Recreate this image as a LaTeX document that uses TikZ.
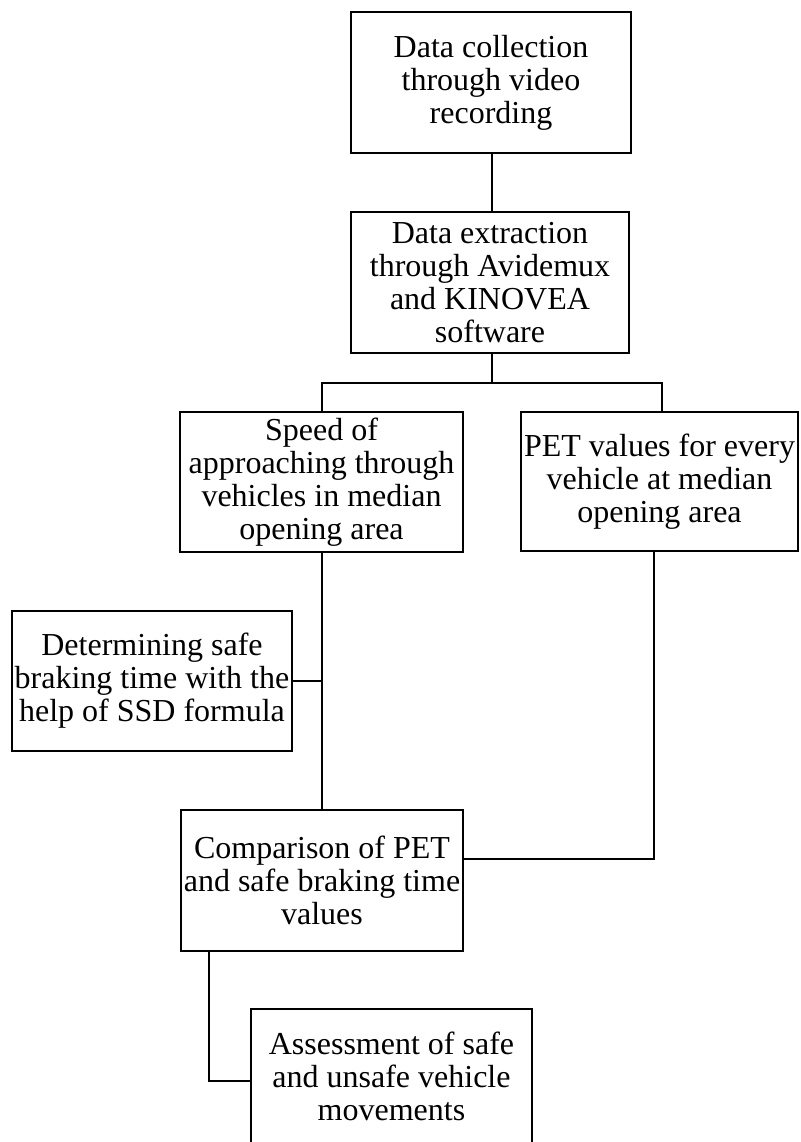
\documentclass[tikz,border=0pt]{standalone}
\usepackage{fontspec}
\setmainfont{Liberation Serif}
\begin{document}
\begin{tikzpicture}[x=1pt,y=-1pt,
  flowbox/.style={draw=black, line width=2.3pt, inner sep=0pt, align=center,
    font=\fontsize{32}{33}\selectfont, minimum width=280pt, minimum height=141pt},
  conn/.style={draw=black, line width=2.3pt}]
\useasboundingbox[fill=white] (0,0) rectangle (800,1142);
\clip (0,0) rectangle (800,1142);
\node[flowbox] (b1) at (491,82.5) {Data collection\\through video\\recording};
\node[flowbox, minimum width=278pt] (b2) at (490,282.5) {Data extraction\\through Avidemux\\and KINOVEA\\software};
\node[flowbox, minimum width=283pt, minimum height=140pt] (b3) at (321.5,482) {Speed of\\approaching through\\vehicles in median\\opening area};
\node[flowbox, minimum width=277pt, minimum height=139pt] (b4) at (659.5,481.5) {PET values for every\\vehicle at median\\opening area};
\node[flowbox, minimum height=140pt] (b6) at (152,681) {Determining safe\\braking time with the\\help of SSD formula};
\node[flowbox, minimum width=282pt] (b5) at (322,880.5) {Comparison of PET\\and safe braking time\\values};
\node[flowbox, minimum width=281pt, minimum height=135pt] (b7) at (391.5,1076.5) {Assessment of safe\\and unsafe vehicle\\movements};
\coordinate (j1) at (492,383);
\coordinate (jl) at (322,383);
\coordinate (jr) at (662,383);
\coordinate (k) at (654,859);
\coordinate (m) at (209,1081);
\draw[conn] (b1.south -| j1) -- (j1 |- b2.north);
\draw[conn] (b2.south -| j1) -- (j1);
\draw[conn] (jl |- b3.north) -- (jl) -- (jr) -- (jr |- b4.north);
\draw[conn] (jl |- b3.south) -- (jl |- b5.north);
\draw[conn] (b6.east) -- (b6.east -| jl);
\draw[conn] (b4.south -| k) -- (k) -- (k -| b5.east);
\draw[conn] (b5.south -| m) -- (m) -- (m -| b7.west);
\end{tikzpicture}
\end{document}
